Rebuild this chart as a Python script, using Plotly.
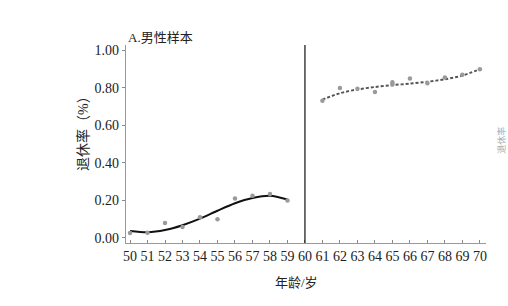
import plotly.graph_objects as go

ages_left = [50, 51, 52, 53, 54, 55, 56, 57, 58, 59]
obs_left = [0.027, 0.028, 0.08, 0.059, 0.11, 0.10, 0.21, 0.225, 0.235, 0.20]
fit_left = [0.037, 0.030, 0.042, 0.068, 0.103, 0.145, 0.185, 0.213, 0.225, 0.205]

ages_right = [61, 62, 63, 64, 65, 66, 67, 68, 69, 70]
obs_right = [0.732, 0.80, 0.795, 0.778, 0.83, 0.85, 0.825, 0.855, 0.87, 0.90]
fit_right = [0.738, 0.772, 0.792, 0.805, 0.815, 0.823, 0.833, 0.846, 0.866, 0.90]
extra_x = [65]
extra_y = [0.818]

cutoff = 60
x_ticks = list(range(50, 71))
y_ticks = [0.0, 0.2, 0.4, 0.6, 0.8, 1.0]
y_ticktext = ["0.00", "0.20", "0.40", "0.60", "0.80", "1.00"]

serif = "Liberation Serif, Noto Sans CJK SC"
dot = dict(color="#9a9a9a", size=4.5)

fig = go.Figure()
fig.add_trace(go.Scatter(x=ages_left, y=fit_left, mode="lines",
                         line=dict(color="#111111", width=2, shape="spline", smoothing=0.8), hoverinfo="skip"))
fig.add_trace(go.Scatter(x=ages_left, y=obs_left, mode="markers", marker=dot))
fig.add_trace(go.Scatter(x=ages_right, y=fit_right, mode="lines",
                         line=dict(color="#555555", width=2, dash="3px,2px", shape="spline", smoothing=0.8)))
fig.add_trace(go.Scatter(x=ages_right + extra_x, y=obs_right + extra_y, mode="markers", marker=dot))

fig.add_shape(type="line", x0=cutoff, x1=cutoff, y0=-0.027, y1=1.03, xref="x", yref="y",
              line=dict(color="#222222", width=1.3))

fig.update_layout(
    width=508, height=306, showlegend=False,
    margin=dict(l=126, r=22, t=45, b=63),
    paper_bgcolor="white", plot_bgcolor="white",
    font=dict(family=serif, color="#222222", size=14),
    annotations=[
        dict(text="A.男性样本", x=0, xref="paper", xanchor="left", y=1, yref="paper",
             yanchor="bottom", yshift=-2, showarrow=False, font=dict(size=13, family=serif)),
        dict(text="年龄/岁", x=0.5, xref="paper", y=-0.197, yref="paper", yanchor="middle",
             showarrow=False, xshift=-10, font=dict(size=13, family=serif)),
        dict(text="退休率（%）", x=-0.12, xref="paper", xanchor="center", y=0.57, yref="paper",
             textangle=-90, showarrow=False, font=dict(size=14, family=serif)),
        dict(text="退休率", x=1.02, xref="paper", xanchor="left", y=0.52, yref="paper",
             textangle=-90, showarrow=False, font=dict(size=9, family=serif, color="#aaaaaa")),
    ],
)
fig.update_xaxes(range=[49.77, 70.35], tickvals=x_ticks, ticktext=[str(v) for v in x_ticks],
                 ticks="inside", ticklen=3, tickcolor="#888888", showgrid=False, zeroline=False,
                 showline=True, linecolor="#999999", linewidth=1.2,
                 tickfont=dict(size=14, family=serif, color="#222222"))
fig.update_yaxes(range=[-0.027, 1.029], tickvals=y_ticks, ticktext=y_ticktext,
                 ticks="outside", ticklen=3, tickcolor="#888888", showgrid=False, zeroline=False,
                 showline=True, linecolor="#999999", linewidth=1.2,
                 tickfont=dict(size=14, family=serif, color="#222222"))

fig.write_html("out.html")
